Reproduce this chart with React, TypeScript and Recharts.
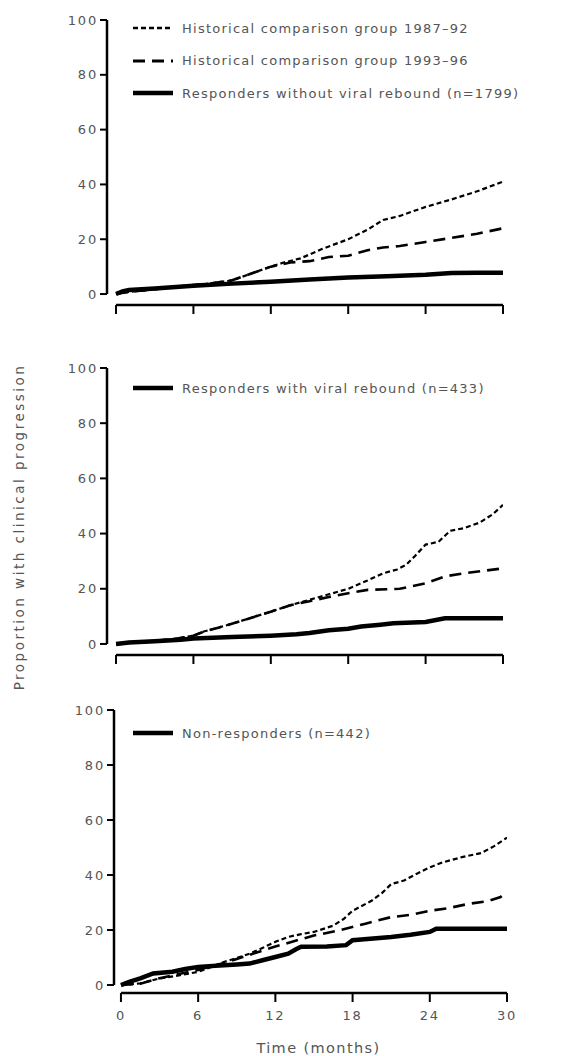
import { LineChart, Line, XAxis, YAxis, ReferenceLine } from 'recharts';

// Kaplan–Meier style curves as [month, percent]
const months = [0, 6, 12, 18, 24, 30];
const pctTicks = [0, 20, 40, 60, 80, 100];

const hist8792Top = [[0, 0], [1, 0.8], [2.6, 1.5], [4, 2.3], [6, 3.3], [7.5, 4], [9, 5], [10.5, 7.5], [12, 10], [13, 11.5], [14.3, 13], [16, 16.5], [18, 20], [19.5, 23.5], [20.7, 27], [22, 28.5], [24, 31.8], [26, 34.5], [28, 37.5], [30, 41]];
const hist9396Top = [[0, 0], [1, 0.8], [2.6, 1.5], [4, 2.3], [6, 3.3], [7.5, 4], [9, 5], [10.5, 7.5], [12, 10], [13.5, 11.5], [15, 12], [16.5, 13.5], [18, 14], [19.5, 16], [20.7, 17], [22, 17.5], [24, 19], [26, 20.5], [28, 22], [30, 24]];
const noRebound = [[0, 0], [0.5, 1], [1, 1.5], [3, 2], [6, 3], [9, 3.8], [12, 4.5], [15, 5.3], [18, 6], [21, 6.5], [24, 7], [26, 7.7], [28, 7.8], [30, 7.8]];

const hist8792Mid = [[0, 0], [1.5, 0.5], [2.6, 1], [4.5, 1.8], [6, 3], [6.8, 4.5], [8, 6], [9.1, 7.5], [10.5, 9.5], [12, 11.7], [13.5, 14], [15, 16], [16.5, 18], [18, 20], [19.5, 23], [20.7, 25.6], [21.8, 27], [22.5, 28.7], [23.2, 32], [24, 36], [25, 37], [25.9, 41], [27, 42], [28.2, 44], [29.2, 47], [30, 50.4]];
const hist9396Mid = [[0, 0], [1.5, 0.5], [2.6, 1], [4.5, 1.8], [6, 3], [6.8, 4.5], [8, 6], [9.1, 7.5], [10.5, 9.5], [12, 11.7], [13.5, 14], [15, 15.5], [16.5, 17], [18, 18.4], [19.5, 19.6], [21, 19.8], [22, 20], [23, 21], [24, 22], [25.5, 24.5], [27, 25.6], [28.5, 26.5], [30, 27.4]];
const withRebound = [[0, 0], [1, 0.5], [3, 1], [5, 1.5], [6, 2], [9, 2.5], [12, 3], [14, 3.5], [15, 4], [16.5, 5], [18, 5.5], [19, 6.3], [20.5, 7], [21.5, 7.5], [24, 8], [25.5, 9.3], [30, 9.3]];

const hist8792Bot = [[0, 0], [1.5, 0.6], [3, 2.4], [4.5, 3.5], [6, 4.8], [7, 6.5], [8, 8.4], [9, 9.8], [10, 11.4], [11, 13.5], [12, 15.7], [13, 17.5], [14, 18.5], [15, 19.3], [16.5, 21.6], [17.3, 24], [18, 27], [19.5, 30.7], [20.3, 33.5], [21, 36.7], [22, 38], [23, 40.5], [24, 42.8], [25, 44.6], [26.5, 46.5], [28, 48], [29, 50.5], [30, 53.6]];
const hist9396Bot = [[0, 0], [1.5, 0.5], [3, 2.5], [4.5, 4], [6, 5.5], [7, 6.8], [8, 8], [9, 9.5], [10, 11], [11, 12.5], [12, 14], [13.5, 16], [15, 18], [17, 19.9], [19, 22.3], [21, 24.7], [22.5, 25.5], [24, 27], [25.5, 28], [27, 29.5], [28.5, 30.5], [29.5, 32], [30, 34]];
const nonResponders = [[0, 0], [0.7, 1.2], [1.5, 2.4], [2.5, 4.2], [4, 4.8], [5, 5.8], [6, 6.6], [8, 7.2], [9, 7.5], [10, 7.8], [11, 9], [12, 10.2], [13, 11.4], [13.6, 13], [14, 13.9], [16, 14], [17.5, 14.5], [18, 16.3], [21, 17.5], [22.5, 18.3], [24, 19.3], [24.5, 20.5], [30, 20.5]];

const toPoints = (pairs: number[][]) => pairs.map(([t, p]) => ({ t, p }));

const FONT = '"DejaVu Sans", Verdana, sans-serif';
const TEXT = '#555';

const styles = {
  short: { strokeWidth: 2.2, dash: '5 3' },
  long: { strokeWidth: 2.6, dash: '12 7' },
  solid: { strokeWidth: 4.5, dash: undefined as string | undefined },
};

type Kind = keyof typeof styles;

interface Series {
  name: string;
  kind: Kind;
  pairs: number[][];
  legend: boolean;
}

interface PanelProps {
  top: number;
  height: number;
  margin: { top: number; right: number; bottom: number; left: number };
  xMin: number;
  yMin: number;
  series: Series[];
  showLabels?: boolean;
  legendTop: number;
}

function LegendBox({ items, top }: { items: Series[]; top: number }) {
  return (
    <div style={{ position: 'absolute', left: 133, top, fontFamily: FONT, fontSize: 13, color: TEXT, letterSpacing: 1.25 }}>
      {items.map((s) => (
        <div key={s.name} style={{ display: 'flex', alignItems: 'center', height: 32.5, whiteSpace: 'nowrap' }}>
          <svg width={40} height={10} style={{ marginRight: 9 }}>
            <line x1={0} y1={5} x2={40} y2={5} stroke="#000" strokeWidth={styles[s.kind].strokeWidth + (s.kind === 'solid' ? 0 : 0.4)} strokeDasharray={styles[s.kind].dash} />
          </svg>
          <span>{s.name.trim()}</span>
        </div>
      ))}
    </div>
  );
}

function Panel({ top, height, margin, xMin, yMin, series, showLabels, legendTop }: PanelProps) {
  const tickStyle = { fontFamily: FONT, fontSize: 13, fill: TEXT, letterSpacing: 1.8 };
  return (
    <div style={{ position: 'absolute', left: 0, top, width: 561, height }}>
      <LineChart width={561} height={height} margin={margin}>
        <XAxis
          type="number"
          dataKey="t"
          domain={[xMin, 30]}
          allowDataOverflow
          ticks={months}
          axisLine={false}
          tickLine={{ stroke: '#000', strokeWidth: 2 }}
          tickSize={9}
          tickMargin={9}
          tick={tickStyle}
          tickFormatter={(v) => (showLabels ? String(v) : '')}
          height={showLabels ? 62 : 20}
          label={showLabels ? { value: 'Time (months)', position: 'insideBottom', offset: 2, dx: 8, style: { fontFamily: FONT, fontSize: 14.5, fill: TEXT, letterSpacing: 1.4 } } : undefined}
        />
        <YAxis
          type="number"
          domain={[yMin, 100]}
          allowDataOverflow
          ticks={pctTicks}
          axisLine={false}
          tickLine={{ stroke: '#000', strokeWidth: 2 }}
          tickSize={7}
          tick={tickStyle}
          width={60}
        />
        <ReferenceLine segment={[{ x: 0, y: yMin }, { x: 30, y: yMin }]} stroke="#000" strokeWidth={2.5} />
        <ReferenceLine segment={[{ x: xMin, y: 0 }, { x: xMin, y: 100 }]} stroke="#000" strokeWidth={2.5} />
        {series.map((s) => (
          <Line
            key={s.name}
            data={toPoints(s.pairs)}
            dataKey="p"
            name={s.name}
            type="linear"
            stroke="#000"
            strokeWidth={styles[s.kind].strokeWidth}
            strokeDasharray={styles[s.kind].dash}
            dot={false}
            isAnimationActive={false}
          />
        ))}
      </LineChart>
      <LegendBox items={series.filter((s) => s.legend)} top={legendTop} />
    </div>
  );
}

const topSeries: Series[] = [
  { name: 'Historical comparison group 1987–92', kind: 'short', pairs: hist8792Top, legend: true },
  { name: 'Historical comparison group 1993–96', kind: 'long', pairs: hist9396Top, legend: true },
  { name: 'Responders without viral rebound (n=1799)', kind: 'solid', pairs: noRebound, legend: true },
];
const midSeries: Series[] = [
  { name: 'Historical comparison group 1987–92 ', kind: 'short', pairs: hist8792Mid, legend: false },
  { name: 'Historical comparison group 1993–96 ', kind: 'long', pairs: hist9396Mid, legend: false },
  { name: 'Responders with viral rebound (n=433)', kind: 'solid', pairs: withRebound, legend: true },
];
const botSeries: Series[] = [
  { name: 'Historical comparison group 1987–92  ', kind: 'short', pairs: hist8792Bot, legend: false },
  { name: 'Historical comparison group 1993–96  ', kind: 'long', pairs: hist9396Bot, legend: false },
  { name: 'Non-responders (n=442)', kind: 'solid', pairs: nonResponders, legend: true },
];

export default function App() {
  return (
    <div style={{ position: 'absolute', left: 0, top: 0, width: 561, height: 1056, background: '#fff' }}>
      <Panel top={0} height={330} margin={{ top: 20, right: 58, bottom: 5, left: 47 }} xMin={-0.7} yMin={-4} series={topSeries} legendTop={12} />
      <Panel top={340} height={340} margin={{ top: 28, right: 58, bottom: 5, left: 47 }} xMin={-0.7} yMin={-4} series={midSeries} legendTop={32} />
      <Panel top={680} height={376} margin={{ top: 30, right: 54, bottom: 1, left: 54 }} xMin={-0.54} yMin={-2.9} series={botSeries} showLabels legendTop={37} />
      <div
        style={{
          position: 'absolute',
          left: 19,
          top: 527,
          transform: 'translate(-50%, -50%) rotate(-90deg)',
          whiteSpace: 'nowrap',
          fontFamily: FONT,
          fontSize: 13.5,
          color: TEXT,
          letterSpacing: 2.5,
        }}
      >
        Proportion with clinical progression
      </div>
    </div>
  );
}
